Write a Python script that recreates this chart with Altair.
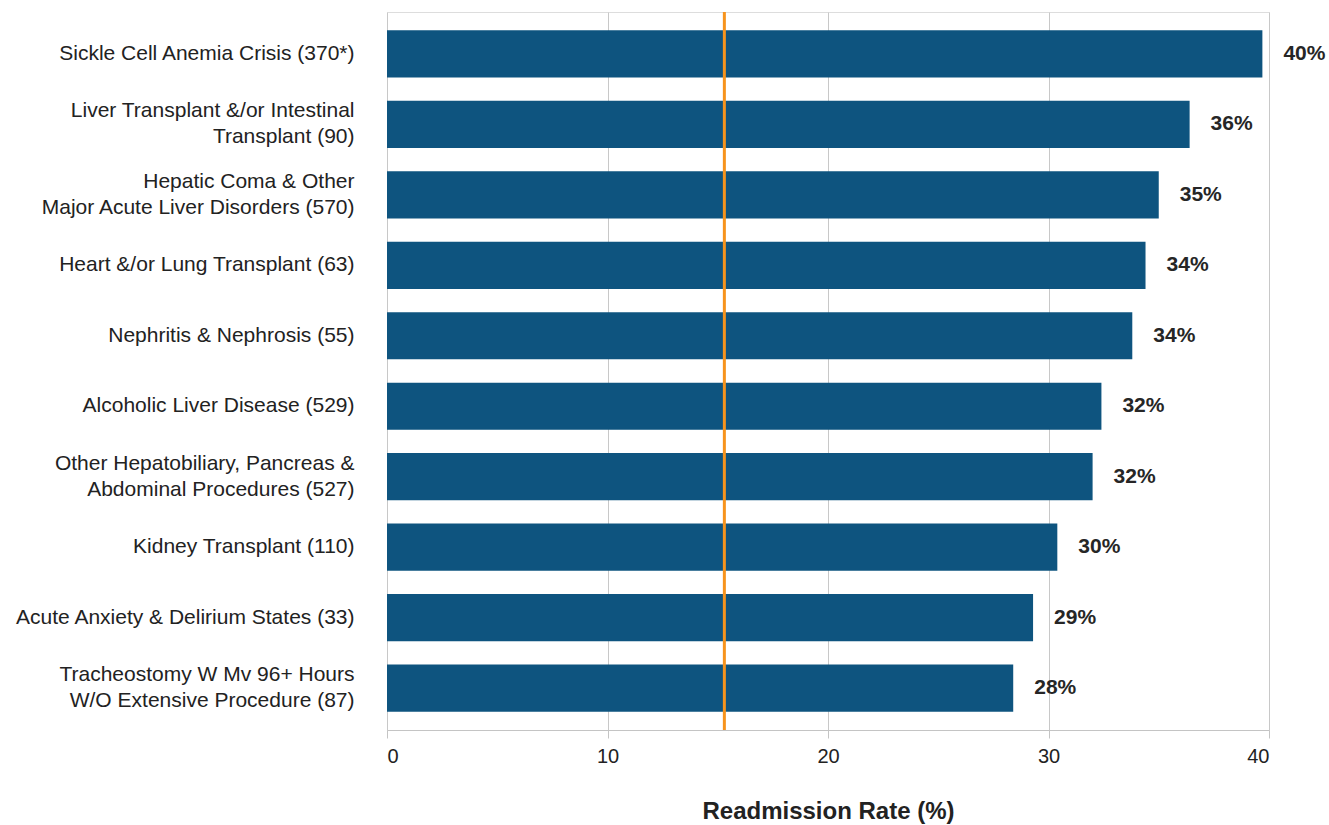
import altair as alt
import pandas as pd

# Diagnosis groups (with DRG codes) and their 30-day readmission rates
categories = [
    "Sickle Cell Anemia Crisis (370*)",
    "Liver Transplant &/or Intestinal|Transplant (90)",
    "Hepatic Coma & Other |Major Acute Liver Disorders (570)",
    "Heart &/or Lung Transplant (63)",
    "Nephritis & Nephrosis (55)",
    "Alcoholic Liver Disease (529)",
    "Other Hepatobiliary, Pancreas &|Abdominal Procedures (527)",
    "Kidney Transplant (110)",
    "Acute Anxiety & Delirium States (33)",
    "Tracheostomy W Mv 96+ Hours|W/O Extensive Procedure (87)",
]
rates = [39.7, 36.4, 35.0, 34.4, 33.8, 32.4, 32.0, 30.4, 29.3, 28.4]
average_rate = [15.3]

df = pd.DataFrame({"category": categories, "rate": rates})
avg_df = pd.DataFrame({"avg": average_rate})

BAR = "#0E547F"
ORANGE = "#F7941D"
FONT = "Liberation Sans"
LINE_H = 26

y_enc = alt.Y(
    "category:N",
    sort=categories,
    title=None,
    scale=alt.Scale(paddingInner=0.33, paddingOuter=0.26),
    axis=alt.Axis(
        labelExpr="split(datum.label, '|')",
        labelFontSize=21,
        labelFont=FONT,
        labelColor="#222222",
        labelLineHeight=LINE_H,
        labelPadding=33,
        labelLimit=420,
        # two-line labels are shifted up so both lines sit centred on the bar
        labelOffset={
            "condition": {"test": "indexof(datum.label, '|') >= 0", "value": -LINE_H / 2},
            "value": 0,
        },
        ticks=False,
        domain=False,
        grid=False,
    ),
)

x_enc = alt.X(
    "rate:Q",
    title="Readmission Rate (%)",
    scale=alt.Scale(domain=[0, 40], nice=False),
    axis=alt.Axis(
        values=[0, 10, 20, 30, 40],
        labelFontSize=20,
        labelFont=FONT,
        labelColor="#222222",
        labelPadding=8,
        tickSize=8,
        tickColor="#c4c4c4",
        domainColor="#c4c4c4",
        gridColor="#c8c8c8",
        titleFont=FONT,
        titleFontSize=24,
        titleFontWeight="bold",
        titleColor="#222222",
        titlePadding=33,
    ),
)

bars = alt.Chart(df).mark_bar(color=BAR).encode(x=x_enc, y=y_enc)

labels = (
    alt.Chart(df)
    .transform_calculate(label="format(datum.rate, '.0f') + '%'")
    .mark_text(
        align="left",
        baseline="middle",
        dx=21,
        fontSize=21,
        fontWeight="bold",
        font=FONT,
        color="#262626",
    )
    .encode(x="rate:Q", y=alt.Y("category:N", sort=categories), text="label:N")
)

avg_line = (
    alt.Chart(avg_df)
    .mark_rule(color=ORANGE, strokeWidth=3)
    .encode(x="avg:Q")
)

chart = (
    alt.layer(bars, avg_line, labels)
    .properties(
        width=882,
        height=718,
        autosize=alt.AutoSizeParams(type="none"),
        padding={"left": 387, "top": 12, "right": 60, "bottom": 95},
    )
    .configure_view(stroke=None)
    .configure(background="white")
)

chart.save("out.html", embed_options={"renderer": "svg", "actions": False})
